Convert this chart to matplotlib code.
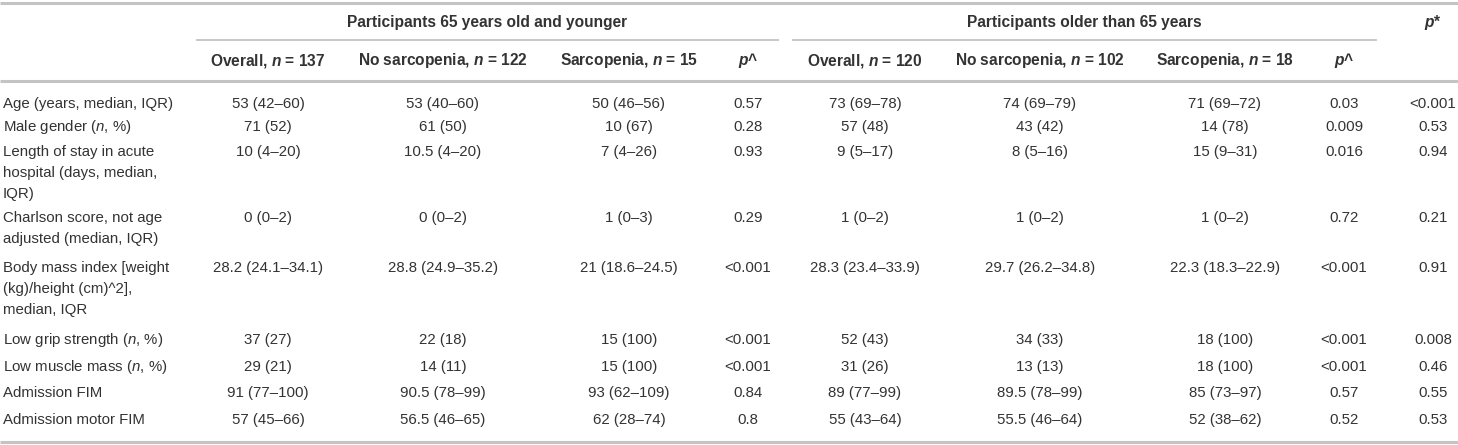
import matplotlib.pyplot as plt

plt.rcParams['font.family'] = ['Liberation Sans', 'DejaVu Sans']
plt.rcParams['mathtext.fontset'] = 'custom'
plt.rcParams['mathtext.rm'] = 'Liberation Sans'
plt.rcParams['mathtext.it'] = 'Liberation Sans:italic'
plt.rcParams['mathtext.bf'] = 'Liberation Sans:bold'
plt.rcParams['mathtext.bfit'] = 'Liberation Sans:italic:bold'

# table content
group_titles = ['Participants 65 years old and younger', 'Participants older than 65 years']
col_headers = ['Overall, $\\mathbfit{n}$ = 137', 'No sarcopenia, $\\mathbfit{n}$ = 122',
               'Sarcopenia, $\\mathbfit{n}$ = 15', '$\\mathbfit{p}$^',
               'Overall, $\\mathbfit{n}$ = 120', 'No sarcopenia, $\\mathbfit{n}$ = 102',
               'Sarcopenia, $\\mathbfit{n}$ = 18', '$\\mathbfit{p}$^']
pstar_header = '$\\mathbfit{p}$*'

row_labels = [
    ['Age (years, median, IQR)'],
    ['Male gender ($\\mathit{n}$, %)'],
    ['Length of stay in acute', 'hospital (days, median,', 'IQR)'],
    ['Charlson score, not age', 'adjusted (median, IQR)'],
    ['Body mass index [weight', '(kg)/height (cm)^2],', 'median, IQR'],
    ['Low grip strength ($\\mathit{n}$, %)'],
    ['Low muscle mass ($\\mathit{n}$, %)'],
    ['Admission FIM'],
    ['Admission motor FIM'],
]

young_overall = ['53 (42–60)', '71 (52)', '10 (4–20)', '0 (0–2)', '28.2 (24.1–34.1)',
                 '37 (27)', '29 (21)', '91 (77–100)', '57 (45–66)']
young_nosarc = ['53 (40–60)', '61 (50)', '10.5 (4–20)', '0 (0–2)', '28.8 (24.9–35.2)',
                '22 (18)', '14 (11)', '90.5 (78–99)', '56.5 (46–65)']
young_sarc = ['50 (46–56)', '10 (67)', '7 (4–26)', '1 (0–3)', '21 (18.6–24.5)',
              '15 (100)', '15 (100)', '93 (62–109)', '62 (28–74)']
young_p = ['0.57', '0.28', '0.93', '0.29', '<0.001', '<0.001', '<0.001', '0.84', '0.8']
old_overall = ['73 (69–78)', '57 (48)', '9 (5–17)', '1 (0–2)', '28.3 (23.4–33.9)',
               '52 (43)', '31 (26)', '89 (77–99)', '55 (43–64)']
old_nosarc = ['74 (69–79)', '43 (42)', '8 (5–16)', '1 (0–2)', '29.7 (26.2–34.8)',
              '34 (33)', '13 (13)', '89.5 (78–99)', '55.5 (46–64)']
old_sarc = ['71 (69–72)', '14 (78)', '15 (9–31)', '1 (0–2)', '22.3 (18.3–22.9)',
            '18 (100)', '18 (100)', '85 (73–97)', '52 (38–62)']
old_p = ['0.03', '0.009', '0.016', '0.72', '<0.001', '<0.001', '<0.001', '0.57', '0.52']
p_star = ['<0.001', '0.53', '0.94', '0.21', '0.91', '0.008', '0.46', '0.55', '0.53']

columns = [young_overall, young_nosarc, young_sarc, young_p,
           old_overall, old_nosarc, old_sarc, old_p, p_star]

# layout (pixel coordinates)
W, H = 1458, 445
col_x = [268, 443, 629, 748, 865, 1040, 1225, 1344, 1433]
group_spans = [(196, 779), (792, 1377)]
row_y = [104, 127, 152, 218, 268, 340, 367, 393, 420]
line_step = 21
text_col = '#333333'
rule_col = '#c4c4c4'
fs = 10.8
fs_head = 11.2

fig = plt.figure(figsize=(W / 100, H / 100), dpi=100)
ax = fig.add_axes([0, 0, 1, 1])
ax.set_xlim(0, W)
ax.set_ylim(H, 0)
ax.axis('off')

# rules
ax.plot([0, W], [3, 3], color=rule_col, lw=2.2, solid_capstyle='butt')
for x0, x1 in group_spans:
    ax.plot([x0, x1], [40, 40], color=rule_col, lw=1.3, solid_capstyle='butt')
ax.plot([0, W], [81, 81], color=rule_col, lw=2.2, solid_capstyle='butt')
ax.plot([0, W], [442, 442], color=rule_col, lw=2.2, solid_capstyle='butt')

# headers
for (x0, x1), title in zip(group_spans, group_titles):
    ax.text((x0 + x1) / 2, 23, title, ha='center', va='center', fontsize=fs_head,
            fontweight='bold', color=text_col)
ax.text(col_x[8], 23, pstar_header, ha='center', va='center', fontsize=fs_head,
        fontweight='bold', color=text_col)
for x, h in zip(col_x[:8], col_headers):
    ax.text(x, 61, h, ha='center', va='center', fontsize=fs_head,
            fontweight='bold', color=text_col)

# body
for i, lines in enumerate(row_labels):
    for j, s in enumerate(lines):
        ax.text(3, row_y[i] + j * line_step, s, ha='left', va='center',
                fontsize=fs, color=text_col)
    for x, col in zip(col_x, columns):
        ax.text(x, row_y[i], col[i], ha='center', va='center',
                fontsize=fs, color=text_col)

fig.savefig('out.png', dpi=100)
